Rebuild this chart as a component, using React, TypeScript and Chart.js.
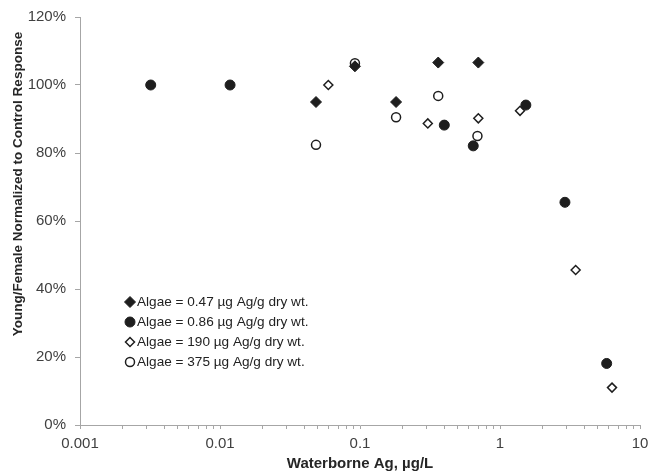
import React, { useEffect, useRef } from "react";
import { Chart, registerables } from "chart.js";

Chart.register(...registerables);

// Series: x = waterborne Ag (µg/L), y = young/female normalized to control (%)
const algae047X = [0.0485, 0.092, 0.181, 0.362, 0.70];
const algae047Y = [95, 105.5, 95, 106.6, 106.6];

const algae086X = [0.0032, 0.0118, 0.40, 0.644, 1.53, 2.91, 5.78];
const algae086Y = [100, 100, 88.2, 82.1, 94.1, 65.5, 18.1];

const algae190X = [0.0594, 0.305, 0.70, 1.39, 3.47, 6.31];
const algae190Y = [100, 88.7, 90.2, 92.4, 45.6, 11];

const algae375X = [0.0485, 0.092, 0.181, 0.362, 0.69];
const algae375Y = [82.4, 106.4, 90.5, 96.8, 85];

const seriesLabels = [
  "Algae = 0.47 µg Ag/g dry wt.",
  "Algae = 0.86 µg Ag/g dry wt.",
  "Algae = 190 µg Ag/g dry wt.",
  "Algae = 375 µg Ag/g dry wt.",
];

const yTicks = [0, 20, 40, 60, 80, 100, 120];
const xDecades = [-3, -2, -1, 0, 1];

const xTitle = "Waterborne Ag, µg/L";
const yTitle = "Young/Female Normalized to Control Response";

const INK = "#1e1e1e";
const FONT = "'Liberation Sans', Arial, sans-serif";

const toPts = (xs: number[], ys: number[]) => xs.map((x, i) => ({ x, y: ys[i] }));

const markerStyles = [
  { pointStyle: "rectRot", radius: 5.5, bg: INK, bw: 1 },
  { pointStyle: "circle", radius: 5, bg: INK, bw: 1 },
  { pointStyle: "rectRot", radius: 4.5, bg: "#ffffff", bw: 1.5 },
  { pointStyle: "circle", radius: 4.5, bg: "#ffffff", bw: 1.5 },
];

const overlayPlugin = {
  id: "overlay",
  afterDraw(chart: any) {
    const ctx = chart.ctx;
    const area = chart.chartArea;
    ctx.save();
    // axis titles
    ctx.fillStyle = "#262626";
    ctx.textAlign = "center";
    ctx.textBaseline = "middle";
    ctx.font = `bold 15px ${FONT}`;
    ctx.fillText(xTitle, (area.left + area.right) / 2, 463.5);
    ctx.save();
    ctx.translate(18, 184);
    ctx.rotate(-Math.PI / 2);
    ctx.font = `bold 13.5px ${FONT}`;
    ctx.fillText(yTitle, 0, 0);
    ctx.restore();

    // legend
    const lx = 130;
    const ly0 = 302;
    const dy = 20;
    ctx.font = `13.6px ${FONT}`;
    ctx.textAlign = "left";
    ctx.textBaseline = "middle";
    seriesLabels.forEach((label, i) => {
      const y = ly0 + i * dy;
      const m = markerStyles[i];
      ctx.beginPath();
      if (m.pointStyle === "circle") {
        ctx.arc(lx, y, m.radius, 0, Math.PI * 2);
      } else {
        ctx.moveTo(lx - m.radius, y);
        ctx.lineTo(lx, y - m.radius);
        ctx.lineTo(lx + m.radius, y);
        ctx.lineTo(lx, y + m.radius);
        ctx.closePath();
      }
      ctx.fillStyle = m.bg;
      ctx.fill();
      ctx.lineWidth = m.bw;
      ctx.strokeStyle = INK;
      ctx.stroke();
      ctx.fillStyle = "#222222";
      ctx.fillText(label, lx + 7, y + 0.5);
    });
    ctx.restore();
  },
};

export default function App() {
  const ref = useRef<HTMLCanvasElement | null>(null);

  useEffect(() => {
    if (!ref.current) return;
    const data = [
      toPts(algae047X, algae047Y),
      toPts(algae086X, algae086Y),
      toPts(algae190X, algae190Y),
      toPts(algae375X, algae375Y),
    ];
    const chart = new Chart(ref.current, {
      type: "scatter",
      data: {
        datasets: data.map((d, i) => ({
          label: seriesLabels[i],
          data: d,
          pointStyle: markerStyles[i].pointStyle as any,
          pointRadius: markerStyles[i].radius,
          pointHoverRadius: markerStyles[i].radius,
          backgroundColor: markerStyles[i].bg,
          borderColor: INK,
          pointBorderWidth: markerStyles[i].bw,
          borderWidth: markerStyles[i].bw,
          showLine: false,
        })),
      },
      options: {
        animation: false,
        responsive: false,
        layout: { padding: { top: 17, right: 9, left: 0, bottom: 0 } },
        plugins: {
          legend: { display: false },
          tooltip: { enabled: false },
        },
        scales: {
          x: {
            type: "logarithmic",
            min: Math.pow(10, xDecades[0]),
            max: Math.pow(10, xDecades[xDecades.length - 1]),
            afterBuildTicks: (scale: any) => {
              const ticks: any[] = [];
              for (let k = 0; k < xDecades.length - 1; k++) {
                const base = Math.pow(10, xDecades[k]);
                for (let m = 1; m <= 9; m++) ticks.push({ value: m * base });
              }
              ticks.push({ value: Math.pow(10, xDecades[xDecades.length - 1]) });
              scale.ticks = ticks;
            },
            afterFit: (scale: any) => {
              scale.height = 48;
              scale.paddingLeft = 0;
              scale.paddingRight = 0;
            },
            ticks: {
              autoSkip: false,
              maxRotation: 0,
              padding: 6,
              color: "#404040",
              font: { family: FONT, size: 15 },
              callback: (v: any) => {
                const l = Math.log10(Number(v));
                if (Math.abs(l - Math.round(l)) < 1e-9) {
                  const e = Math.round(l);
                  return e < 0 ? (1 / Math.pow(10, -e)).toFixed(-e) : String(Math.pow(10, e));
                }
                return "";
              },
            },
            grid: {
              drawOnChartArea: false,
              drawTicks: true,
              tickLength: 4,
              color: "#a6a6a6",
            },
            border: { color: "#a6a6a6", width: 1 },
            title: { display: false },
          },
          y: {
            min: yTicks[0],
            max: yTicks[yTicks.length - 1],
            afterBuildTicks: (scale: any) => {
              scale.ticks = yTicks.map((v) => ({ value: v }));
            },
            afterFit: (scale: any) => {
              scale.width = 80;
              scale.paddingTop = 0;
              scale.paddingBottom = 0;
            },
            ticks: {
              padding: 9,
              color: "#404040",
              font: { family: FONT, size: 15 },
              callback: (v: any) => `${v}%`,
            },
            grid: {
              drawOnChartArea: false,
              drawTicks: true,
              tickLength: 5,
              color: "#a6a6a6",
            },
            border: { color: "#a6a6a6", width: 1 },
            title: { display: false },
          },
        },
      },
      plugins: [overlayPlugin],
    });
    return () => chart.destroy();
  }, []);

  return (
    <div style={{ position: "absolute", left: 0, top: 0, width: 649, height: 473, background: "#ffffff" }}>
      <canvas ref={ref} width={649} height={473} style={{ display: "block" }} />
    </div>
  );
}
